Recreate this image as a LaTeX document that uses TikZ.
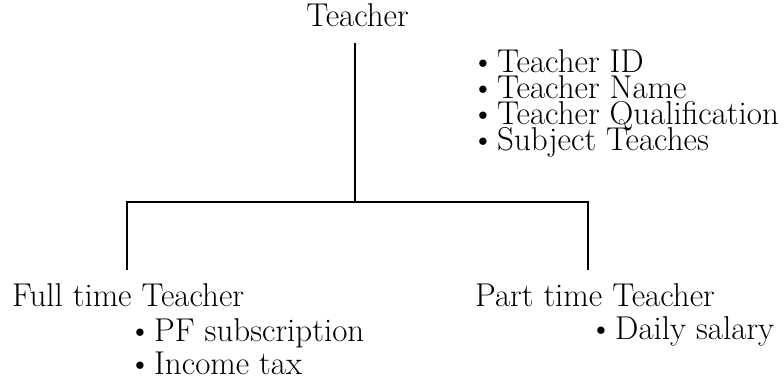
\documentclass[tikz,border=0pt]{standalone}
\usepackage{fontspec}
\begin{document}
\begin{tikzpicture}[x=1pt,y=1pt,
  lbl/.style={inner sep=0pt,anchor=base west,font=\fontsize{33}{36}\selectfont},
  head/.style={lbl,outer ysep=17pt},
  conn/.style={line width=1.8pt,line cap=rect}]
\useasboundingbox (0,0) rectangle (784,378);
\newcommand{\bul}[1]{\makebox[21pt][l]{\hspace*{-5pt}\textbullet}#1}
% nodes
\node[head,anchor=base] (teacher) at (357.5,351) {Teacher};
\node[lbl] (a1) at (476,305) {\bul{Teacher ID}};
\node[lbl] (a2) at (476,279) {\bul{Teacher Name}};
\node[lbl] (a3) at (476,253) {\bul{Teacher Qualification}};
\node[lbl] (a4) at (476,227) {\bul{Subject Teaches}};
\node[head,outer ysep=14pt] (full) at (12,72) {Full time Teacher};
\node[lbl] (f1) at (133,37) {\bul{PF subscription}};
\node[lbl] (f2) at (133,4) {\bul{Income tax}};
\node[head,outer ysep=14pt] (part) at (475,72) {Part time Teacher};
\node[lbl] (p1) at (594,39) {\bul{Daily salary}};
% connectors
\coordinate (j) at (355,176);
\coordinate (jl) at (127,176);
\coordinate (jr) at (588,176);
\draw[conn] (teacher.south -| j) -- (j);
\draw[conn] (full.north -| jl) -- (jl) -- (jr) -- (part.north -| jr);
\end{tikzpicture}
\end{document}
